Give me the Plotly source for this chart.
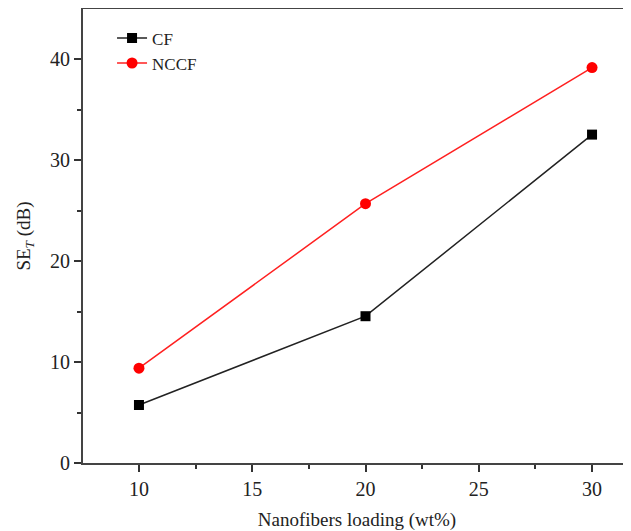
import plotly.graph_objects as go

loading = [10, 20, 30]
cf = [5.75, 14.55, 32.55]
nccf = [9.4, 25.7, 39.2]

x_ticks = [10, 15, 20, 25, 30]
y_ticks = [0, 10, 20, 30, 40]

font = "Liberation Serif, Times New Roman, serif"

fig = go.Figure()
fig.add_trace(go.Scatter(x=loading, y=cf, name="CF", mode="lines+markers",
                         line=dict(color="#222222", width=1.5),
                         marker=dict(symbol="square", size=10, color="black")))
fig.add_trace(go.Scatter(x=loading, y=nccf, name="NCCF", mode="lines+markers",
                         line=dict(color="#ff2020", width=1.5),
                         marker=dict(symbol="circle", size=11, color="#ff0000")))

fig.update_layout(
    width=623, height=523,
    margin=dict(l=75, r=0, t=1, b=68, autoexpand=False),
    paper_bgcolor="white", plot_bgcolor="white",
    font=dict(family=font, size=20, color="#222222"),
    showlegend=True,
    legend=dict(x=0.053, y=0.975, xanchor="left", yanchor="top",
                bgcolor="rgba(0,0,0,0)", font=dict(size=17),
                itemwidth=30, tracegroupgap=0),
)
fig.update_xaxes(range=[7.53, 31.72], tickvals=x_ticks, ticks="outside", ticklen=7, tickwidth=1.5,
                 tickcolor="#333", showline=True, linewidth=2, linecolor="#444", mirror=True,
                 showgrid=False, zeroline=False, automargin=False,
                 minor=dict(tickvals=[12.5, 17.5, 22.5, 27.5], ticks="outside", ticklen=4, tickwidth=1.5, tickcolor="#333"),
                 title=dict(text="Nanofibers loading (wt%)", font=dict(size=19), standoff=18))
fig.update_yaxes(range=[0, 45.0], tickvals=y_ticks, ticks="outside", ticklen=7, tickwidth=1.5,
                 tickcolor="#333", showline=True, linewidth=2, linecolor="#444",
                 showgrid=False, zeroline=False, automargin=False,
                 minor=dict(tickvals=[5, 15, 25, 35], ticks="outside", ticklen=4, tickwidth=1.5, tickcolor="#333"),
                 title=dict(text="SE<sub><i>T</i></sub> (dB)", font=dict(size=19), standoff=14))

fig.write_html("out.html")
